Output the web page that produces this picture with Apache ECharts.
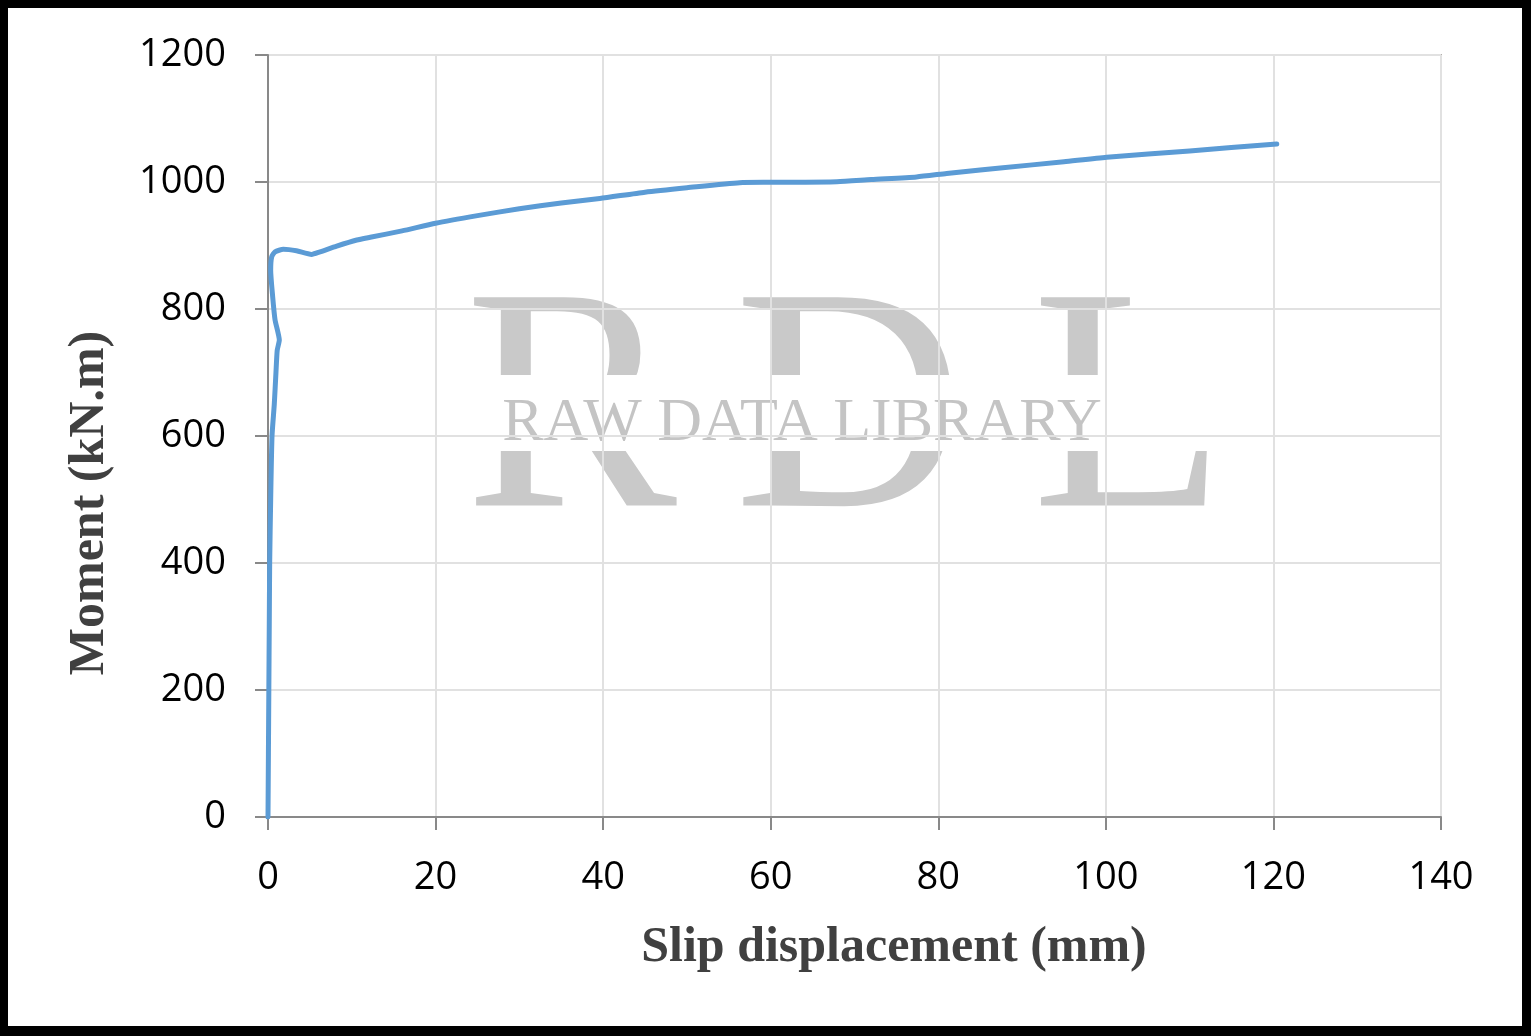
<!DOCTYPE html>
<html>
<head>
<meta charset="utf-8">
<script src="https://cdn.jsdelivr.net/npm/echarts@6/dist/echarts.min.js"></script>
<style>
  html, body { margin:0; padding:0; background:#000; }
  #frame { position:absolute; left:0; top:0; width:1531px; height:1036px; box-sizing:border-box;
           border-style:solid; border-color:#000; border-width:8px 9px 10px 8px; background:#fff; border-radius:4px; }
  #chart { position:absolute; left:0; top:0; width:1531px; height:1036px; }
</style>
</head>
<body>
<div id="frame"></div>
<div id="chart"></div>
<script>
// Slip displacement (mm)
const slip = [0, 0.05, 0.1, 0.15, 0.2, 0.32, 0.48, 0.75, 0.95, 1.1, 1.35, 0.84, 0.56, 0.32, 0.44, 0.84, 1.83, 3.4, 5.2, 6.2, 8.2, 10.6, 12.2, 16, 20, 25, 30, 35, 39.6, 45, 50, 56.3, 60, 67.9, 72, 77.4, 81, 85, 87.4, 95, 100.1, 110, 120.4];
// Moment (kN.m)
const moment = [0, 100, 200, 300, 400, 500, 600, 650, 700, 735, 751, 783, 819, 861, 882, 890, 894, 891.6, 886, 890, 899, 908.6, 913, 923, 935, 947, 958, 967, 974, 984, 991, 999, 999.5, 1000.5, 1004, 1008, 1013.5, 1019, 1022, 1032, 1039, 1049, 1060];
const xTicks = {min: 0, max: 140, interval: 20};
const yTicks = {min: 0, max: 1200, interval: 200};
const xTitle = 'Slip displacement (mm)';
const yTitle = 'Moment (kN.m)';

const chart = echarts.init(document.getElementById('chart'), null, {renderer: 'canvas'});
const wmColor = '#c9c9c9';
const bigFont = 'normal 318px "Liberation Serif", "DejaVu Serif", serif';
const titleFont = 'bold 50px "Liberation Serif", "DejaVu Serif", serif';
chart.setOption({
  backgroundColor: 'transparent',
  animation: false,
  grid: {left: 268, top: 55, right: 90, bottom: 219, show: true, borderColor: '#b3afab', borderWidth: 2, backgroundColor: 'transparent'},
  graphic: [
    {type: 'text', z: -10, style: {text: 'R', x: 571, y: 581, textAlign: 'center', textVerticalAlign: 'bottom', font: bigFont, fill: wmColor}},
    {type: 'text', z: -10, style: {text: 'D', x: 849, y: 581, textAlign: 'center', textVerticalAlign: 'bottom', font: bigFont, fill: wmColor}},
    {type: 'text', z: -10, style: {text: 'L', x: 1129, y: 581, textAlign: 'center', textVerticalAlign: 'bottom', font: bigFont, fill: wmColor}},
    {type: 'rect', z: -9, shape: {x: 440, y: 375, width: 800, height: 76}, style: {fill: '#fff'}},
    {type: 'text', z: -8, style: {text: 'RAW DATA LIBRARY', x: 802, y: 455, textAlign: 'center', textVerticalAlign: 'bottom', font: 'normal 62px "Liberation Serif", "DejaVu Serif", serif', fill: '#c4c4c4'}},
    {type: 'text', style: {text: xTitle, x: 894, y: 948, textAlign: 'center', textVerticalAlign: 'middle', font: titleFont, fill: '#404040'}},
    {type: 'text', rotation: Math.PI/2, x: 90, y: 503, style: {text: yTitle, x: 0, y: 0, textAlign: 'center', textVerticalAlign: 'middle', font: titleFont, fill: '#404040'}}
  ],
  xAxis: {
    type: 'value', min: xTicks.min, max: xTicks.max, interval: xTicks.interval,
    axisLine: {show: true, onZero: false, lineStyle: {color: '#898989', width: 2}},
    axisTick: {show: true, inside: false, length: 13, lineStyle: {color: '#898989', width: 2}},
    axisLabel: {margin: 42, color: '#000', fontSize: 38, fontFamily: '"Open Sans", "Liberation Sans", sans-serif', formatter: v => String(v)},
    splitLine: {show: true, lineStyle: {color: '#e1e1e1', width: 2}}
  },
  yAxis: {
    type: 'value', min: yTicks.min, max: yTicks.max, interval: yTicks.interval,
    axisLine: {show: true, onZero: false, lineStyle: {color: '#898989', width: 2}},
    axisTick: {show: true, inside: false, length: 13, lineStyle: {color: '#898989', width: 2}},
    axisLabel: {margin: 42, color: '#000', fontSize: 38, fontFamily: '"Open Sans", "Liberation Sans", sans-serif', formatter: v => String(v)},
    splitLine: {show: true, lineStyle: {color: '#e1e1e1', width: 2}}
  },
  series: [{
    type: 'line',
    data: slip.map((x, i) => [x, moment[i]]),
    showSymbol: false,
    smooth: 0.2,
    lineStyle: {color: '#5b9bd5', width: 5, cap: 'round', join: 'round'},
    z: 5
  }]
});
</script>
</body>
</html>
